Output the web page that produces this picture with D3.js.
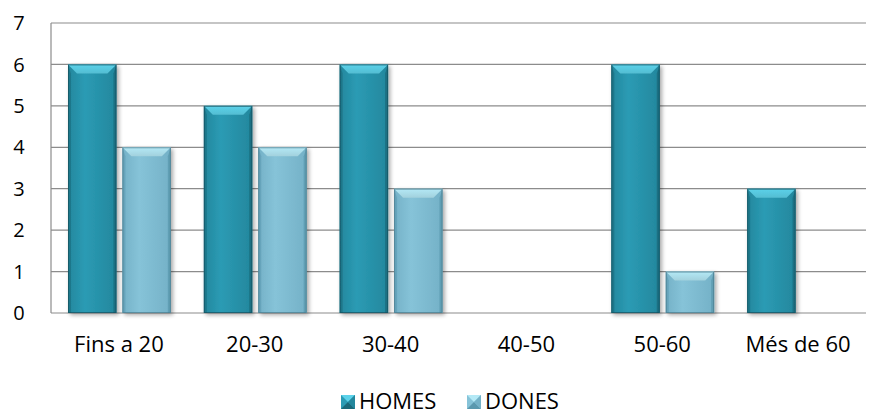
<!DOCTYPE html>
<html><head><meta charset="utf-8">
<script src="https://cdn.jsdelivr.net/npm/d3@7"></script>
<style>body{margin:0;background:#fff;}svg{display:block;font-family:"Open Sans",sans-serif;}</style>
</head><body>
<svg id="c" width="876" height="415"></svg>
<script>
const categories = ["Fins a 20","20-30","30-40","40-50","50-60","Més de 60"];
const homes = [6,5,6,0,6,3];
const dones = [4,4,3,0,1,0];
const seriesNames = ["HOMES","DONES"];
const yTicks = [0,1,2,3,4,5,6,7];

const svg = d3.select("#c");
const m = {l:51, r:866, t:23, b:313};
const x = d3.scaleBand().domain(categories).range([m.l, m.r]).paddingInner(0).paddingOuter(0);
const xs = d3.scaleBand().domain(seriesNames).range([17, x.bandwidth()-16]).paddingInner(0.11);
const y = d3.scaleLinear().domain([0,7]).range([m.b, m.t]);

const defs = svg.append("defs");
const pal = {
  HOMES:{main:"#2b9bb4", dark:"#1a6879", light:"#5cd2ea", side:"#23879d", edge:"#17505e"},
  DONES:{main:"#86c3d8", dark:"#5a98ae", light:"#b4e9f6", side:"#74b1c7", edge:"#4a7b8b"}
};
Object.entries(pal).forEach(([k,p])=>{
  const g = defs.append("linearGradient").attr("id","g"+k).attr("x1",0).attr("x2",1).attr("y1",0).attr("y2",0);
  g.append("stop").attr("offset","0").attr("stop-color",p.side);
  g.append("stop").attr("offset","0.35").attr("stop-color",p.main);
  g.append("stop").attr("offset","1").attr("stop-color",p.side);
  const t = defs.append("linearGradient").attr("id","t"+k).attr("x1",0).attr("x2",0).attr("y1",0).attr("y2",1);
  t.append("stop").attr("offset","0").attr("stop-color",p.light);
  t.append("stop").attr("offset","1").attr("stop-color",d3.color(p.light).darker(0.3));
});
const f = defs.append("filter").attr("id","sh").attr("x","-20%").attr("y","-10%").attr("width","150%").attr("height","130%");
f.append("feGaussianBlur").attr("in","SourceAlpha").attr("stdDeviation",2);
f.append("feOffset").attr("dx",2).attr("dy",2).attr("result","b");
f.append("feComponentTransfer").append("feFuncA").attr("type","linear").attr("slope",0.35);
const mg = f.append("feMerge"); mg.append("feMergeNode"); mg.append("feMergeNode").attr("in","SourceGraphic");

// gridlines
svg.append("g").selectAll("line").data(yTicks).join("line")
  .attr("x1",m.l).attr("x2",m.r).attr("y1",d=>y(d)).attr("y2",d=>y(d))
  .attr("stroke","#8c8c8c").attr("stroke-width",1.2);
svg.append("line").attr("x1",m.l).attr("x2",m.l).attr("y1",m.t).attr("y2",m.b).attr("stroke","#8c8c8c").attr("stroke-width",1.2);

// y labels
svg.append("g").selectAll("text").data(yTicks).join("text")
  .attr("x",19).attr("y",d=>y(d)).attr("dy","0.36em").attr("text-anchor","middle")
  .attr("font-size",20).attr("fill","#000").text(d=>d);

// x labels
svg.append("g").selectAll("text").data(categories).join("text")
  .attr("x",d=>x(d)+x.bandwidth()/2).attr("y",352).attr("text-anchor","middle")
  .attr("font-size",22).attr("fill","#000").text(d=>d);

const data = [];
categories.forEach((c,i)=>{
  data.push({c, s:"HOMES", v:homes[i]});
  data.push({c, s:"DONES", v:dones[i]});
});
const bars = svg.append("g").selectAll("g").data(data.filter(d=>d.v>0)).join("g").attr("filter","url(#sh)");
bars.each(function(d){
  const g = d3.select(this), p = pal[d.s];
  const x0 = x(d.c)+xs(d.s), w = xs.bandwidth(), y0 = y(d.v), h = y(0)-y0;
  const bv = 9, sv = 3;
  g.append("rect").attr("x",x0).attr("y",y0).attr("width",w).attr("height",h).attr("fill","url(#g"+d.s+")");
  g.append("polygon").attr("points",[[x0,y0],[x0+sv,y0+bv],[x0+sv,y0+h],[x0,y0+h]].join(" ")).attr("fill",p.dark).attr("opacity",0.55);
  g.append("polygon").attr("points",[[x0+w,y0],[x0+w-sv,y0+bv],[x0+w-sv,y0+h],[x0+w,y0+h]].join(" ")).attr("fill",p.dark).attr("opacity",0.75);
  g.append("polygon").attr("points",[[x0,y0],[x0+w,y0],[x0+w-bv,y0+bv],[x0+bv,y0+bv]].join(" ")).attr("fill","url(#t"+d.s+")");
  g.append("rect").attr("x",x0+0.5).attr("y",y0+0.5).attr("width",w-1).attr("height",h-1).attr("fill","none").attr("stroke",p.edge).attr("stroke-width",1).attr("opacity",0.7);
});

// legend
const leg = svg.append("g");
const lx = [341, 467];
seriesNames.forEach((s,i)=>{
  const p = pal[s], sz = 14, xx = lx[i], yy = 395;
  const lg = leg.append("g");
  lg.append("rect").attr("x",xx).attr("y",yy).attr("width",sz).attr("height",sz).attr("fill",p.main);
  lg.append("polygon").attr("points",[[xx,yy],[xx+sz,yy],[xx+sz/2,yy+sz/2]].join(" ")).attr("fill",p.light);
  lg.append("polygon").attr("points",[[xx,yy+sz],[xx+sz,yy+sz],[xx+sz/2,yy+sz/2]].join(" ")).attr("fill",p.dark);
  lg.append("polygon").attr("points",[[xx+sz,yy],[xx+sz,yy+sz],[xx+sz/2,yy+sz/2]].join(" ")).attr("fill",p.side);
  lg.append("text").attr("x",xx+sz+4).attr("y",409).attr("font-size",22).attr("fill","#000").text(s);
});
</script>
</body></html>
